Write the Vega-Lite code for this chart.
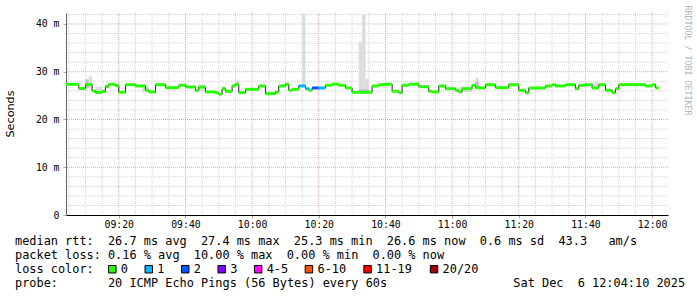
{
  "$schema": "https://vega.github.io/schema/vega-lite/v6.json",
  "width": 602,
  "height": 202,
  "autosize": {"type": "none"},
  "padding": {"left": 66, "top": 13, "right": 29, "bottom": 82},
  "config": {"view": {"stroke": "transparent"}},
  "datasets": {
    "segments": [
      {"t0": "2025-12-06T09:04:00Z", "t1": "2025-12-06T09:08:00Z", "med": 27.37, "loss": "0"},
      {"t0": "2025-12-06T09:08:00Z", "t1": "2025-12-06T09:10:00Z", "med": 26.49, "loss": "0"},
      {"t0": "2025-12-06T09:10:00Z", "t1": "2025-12-06T09:12:00Z", "med": 27.33, "loss": "0"},
      {"t0": "2025-12-06T09:12:00Z", "t1": "2025-12-06T09:13:00Z", "med": 25.97, "loss": "0"},
      {"t0": "2025-12-06T09:13:00Z", "t1": "2025-12-06T09:15:00Z", "med": 25.65, "loss": "0"},
      {"t0": "2025-12-06T09:15:00Z", "t1": "2025-12-06T09:16:00Z", "med": 25.86, "loss": "0"},
      {"t0": "2025-12-06T09:16:00Z", "t1": "2025-12-06T09:17:00Z", "med": 26.91, "loss": "0"},
      {"t0": "2025-12-06T09:17:00Z", "t1": "2025-12-06T09:19:00Z", "med": 27.37, "loss": "0"},
      {"t0": "2025-12-06T09:19:00Z", "t1": "2025-12-06T09:20:00Z", "med": 27.1, "loss": "0"},
      {"t0": "2025-12-06T09:20:00Z", "t1": "2025-12-06T09:22:00Z", "med": 25.7, "loss": "0"},
      {"t0": "2025-12-06T09:22:00Z", "t1": "2025-12-06T09:25:00Z", "med": 27.29, "loss": "0"},
      {"t0": "2025-12-06T09:25:00Z", "t1": "2025-12-06T09:28:00Z", "med": 27.02, "loss": "0"},
      {"t0": "2025-12-06T09:28:00Z", "t1": "2025-12-06T09:29:00Z", "med": 26.11, "loss": "0"},
      {"t0": "2025-12-06T09:29:00Z", "t1": "2025-12-06T09:31:00Z", "med": 25.76, "loss": "0"},
      {"t0": "2025-12-06T09:31:00Z", "t1": "2025-12-06T09:34:00Z", "med": 27.29, "loss": "0"},
      {"t0": "2025-12-06T09:34:00Z", "t1": "2025-12-06T09:38:00Z", "med": 26.66, "loss": "0"},
      {"t0": "2025-12-06T09:38:00Z", "t1": "2025-12-06T09:40:00Z", "med": 27.16, "loss": "0"},
      {"t0": "2025-12-06T09:40:00Z", "t1": "2025-12-06T09:43:00Z", "med": 26.81, "loss": "0"},
      {"t0": "2025-12-06T09:43:00Z", "t1": "2025-12-06T09:44:00Z", "med": 26.11, "loss": "0"},
      {"t0": "2025-12-06T09:44:00Z", "t1": "2025-12-06T09:46:00Z", "med": 26.81, "loss": "0"},
      {"t0": "2025-12-06T09:46:00Z", "t1": "2025-12-06T09:49:00Z", "med": 25.76, "loss": "0"},
      {"t0": "2025-12-06T09:49:00Z", "t1": "2025-12-06T09:50:00Z", "med": 25.6, "loss": "0"},
      {"t0": "2025-12-06T09:50:00Z", "t1": "2025-12-06T09:51:00Z", "med": 25.3, "loss": "0"},
      {"t0": "2025-12-06T09:51:00Z", "t1": "2025-12-06T09:52:00Z", "med": 26.45, "loss": "0"},
      {"t0": "2025-12-06T09:52:00Z", "t1": "2025-12-06T09:54:00Z", "med": 25.9, "loss": "0"},
      {"t0": "2025-12-06T09:54:00Z", "t1": "2025-12-06T09:55:00Z", "med": 27.02, "loss": "0"},
      {"t0": "2025-12-06T09:55:00Z", "t1": "2025-12-06T09:56:00Z", "med": 27.4, "loss": "0"},
      {"t0": "2025-12-06T09:56:00Z", "t1": "2025-12-06T09:58:00Z", "med": 25.61, "loss": "0"},
      {"t0": "2025-12-06T09:58:00Z", "t1": "2025-12-06T10:02:00Z", "med": 26.32, "loss": "0"},
      {"t0": "2025-12-06T10:02:00Z", "t1": "2025-12-06T10:04:00Z", "med": 27.02, "loss": "0"},
      {"t0": "2025-12-06T10:04:00Z", "t1": "2025-12-06T10:07:00Z", "med": 25.4, "loss": "0"},
      {"t0": "2025-12-06T10:07:00Z", "t1": "2025-12-06T10:08:00Z", "med": 25.76, "loss": "0"},
      {"t0": "2025-12-06T10:08:00Z", "t1": "2025-12-06T10:10:00Z", "med": 27.02, "loss": "0"},
      {"t0": "2025-12-06T10:10:00Z", "t1": "2025-12-06T10:11:00Z", "med": 27.4, "loss": "0"},
      {"t0": "2025-12-06T10:11:00Z", "t1": "2025-12-06T10:12:00Z", "med": 26.11, "loss": "0"},
      {"t0": "2025-12-06T10:12:00Z", "t1": "2025-12-06T10:14:00Z", "med": 26.32, "loss": "0"},
      {"t0": "2025-12-06T10:14:00Z", "t1": "2025-12-06T10:16:00Z", "med": 27.02, "loss": "1"},
      {"t0": "2025-12-06T10:16:00Z", "t1": "2025-12-06T10:17:00Z", "med": 26.45, "loss": "1"},
      {"t0": "2025-12-06T10:17:00Z", "t1": "2025-12-06T10:18:00Z", "med": 26.11, "loss": "0"},
      {"t0": "2025-12-06T10:18:00Z", "t1": "2025-12-06T10:20:00Z", "med": 26.6, "loss": "2"},
      {"t0": "2025-12-06T10:20:00Z", "t1": "2025-12-06T10:22:00Z", "med": 26.6, "loss": "1"},
      {"t0": "2025-12-06T10:22:00Z", "t1": "2025-12-06T10:24:00Z", "med": 27.16, "loss": "0"},
      {"t0": "2025-12-06T10:24:00Z", "t1": "2025-12-06T10:26:00Z", "med": 27.4, "loss": "0"},
      {"t0": "2025-12-06T10:26:00Z", "t1": "2025-12-06T10:28:00Z", "med": 27.16, "loss": "0"},
      {"t0": "2025-12-06T10:28:00Z", "t1": "2025-12-06T10:30:00Z", "med": 26.6, "loss": "0"},
      {"t0": "2025-12-06T10:30:00Z", "t1": "2025-12-06T10:36:00Z", "med": 25.7, "loss": "0"},
      {"t0": "2025-12-06T10:36:00Z", "t1": "2025-12-06T10:38:00Z", "med": 27.02, "loss": "0"},
      {"t0": "2025-12-06T10:38:00Z", "t1": "2025-12-06T10:40:00Z", "med": 27.29, "loss": "0"},
      {"t0": "2025-12-06T10:40:00Z", "t1": "2025-12-06T10:42:00Z", "med": 27.4, "loss": "0"},
      {"t0": "2025-12-06T10:42:00Z", "t1": "2025-12-06T10:44:00Z", "med": 25.91, "loss": "0"},
      {"t0": "2025-12-06T10:44:00Z", "t1": "2025-12-06T10:45:00Z", "med": 25.61, "loss": "0"},
      {"t0": "2025-12-06T10:45:00Z", "t1": "2025-12-06T10:47:00Z", "med": 27.16, "loss": "0"},
      {"t0": "2025-12-06T10:47:00Z", "t1": "2025-12-06T10:50:00Z", "med": 27.4, "loss": "0"},
      {"t0": "2025-12-06T10:50:00Z", "t1": "2025-12-06T10:53:00Z", "med": 26.87, "loss": "0"},
      {"t0": "2025-12-06T10:53:00Z", "t1": "2025-12-06T10:54:00Z", "med": 25.91, "loss": "0"},
      {"t0": "2025-12-06T10:54:00Z", "t1": "2025-12-06T10:56:00Z", "med": 25.76, "loss": "0"},
      {"t0": "2025-12-06T10:56:00Z", "t1": "2025-12-06T10:58:00Z", "med": 27.02, "loss": "0"},
      {"t0": "2025-12-06T10:58:00Z", "t1": "2025-12-06T11:01:00Z", "med": 26.45, "loss": "0"},
      {"t0": "2025-12-06T11:01:00Z", "t1": "2025-12-06T11:02:00Z", "med": 26.11, "loss": "0"},
      {"t0": "2025-12-06T11:02:00Z", "t1": "2025-12-06T11:03:00Z", "med": 25.76, "loss": "0"},
      {"t0": "2025-12-06T11:03:00Z", "t1": "2025-12-06T11:06:00Z", "med": 26.45, "loss": "0"},
      {"t0": "2025-12-06T11:06:00Z", "t1": "2025-12-06T11:07:00Z", "med": 27.16, "loss": "0"},
      {"t0": "2025-12-06T11:07:00Z", "t1": "2025-12-06T11:09:00Z", "med": 26.66, "loss": "0"},
      {"t0": "2025-12-06T11:09:00Z", "t1": "2025-12-06T11:10:00Z", "med": 26.6, "loss": "0"},
      {"t0": "2025-12-06T11:10:00Z", "t1": "2025-12-06T11:13:00Z", "med": 27.29, "loss": "0"},
      {"t0": "2025-12-06T11:13:00Z", "t1": "2025-12-06T11:17:00Z", "med": 26.66, "loss": "0"},
      {"t0": "2025-12-06T11:17:00Z", "t1": "2025-12-06T11:20:00Z", "med": 27.29, "loss": "0"},
      {"t0": "2025-12-06T11:20:00Z", "t1": "2025-12-06T11:22:00Z", "med": 26.11, "loss": "0"},
      {"t0": "2025-12-06T11:22:00Z", "t1": "2025-12-06T11:23:00Z", "med": 25.61, "loss": "0"},
      {"t0": "2025-12-06T11:23:00Z", "t1": "2025-12-06T11:28:00Z", "med": 26.6, "loss": "0"},
      {"t0": "2025-12-06T11:28:00Z", "t1": "2025-12-06T11:30:00Z", "med": 27.02, "loss": "0"},
      {"t0": "2025-12-06T11:30:00Z", "t1": "2025-12-06T11:31:00Z", "med": 27.29, "loss": "0"},
      {"t0": "2025-12-06T11:31:00Z", "t1": "2025-12-06T11:34:00Z", "med": 27.02, "loss": "0"},
      {"t0": "2025-12-06T11:34:00Z", "t1": "2025-12-06T11:37:00Z", "med": 27.29, "loss": "0"},
      {"t0": "2025-12-06T11:37:00Z", "t1": "2025-12-06T11:38:00Z", "med": 26.45, "loss": "0"},
      {"t0": "2025-12-06T11:38:00Z", "t1": "2025-12-06T11:40:00Z", "med": 27.16, "loss": "0"},
      {"t0": "2025-12-06T11:40:00Z", "t1": "2025-12-06T11:42:00Z", "med": 27.29, "loss": "0"},
      {"t0": "2025-12-06T11:42:00Z", "t1": "2025-12-06T11:44:00Z", "med": 26.6, "loss": "0"},
      {"t0": "2025-12-06T11:44:00Z", "t1": "2025-12-06T11:46:00Z", "med": 27.29, "loss": "0"},
      {"t0": "2025-12-06T11:46:00Z", "t1": "2025-12-06T11:48:00Z", "med": 26.11, "loss": "0"},
      {"t0": "2025-12-06T11:48:00Z", "t1": "2025-12-06T11:49:00Z", "med": 25.61, "loss": "0"},
      {"t0": "2025-12-06T11:49:00Z", "t1": "2025-12-06T11:50:00Z", "med": 26.45, "loss": "0"},
      {"t0": "2025-12-06T11:50:00Z", "t1": "2025-12-06T11:58:00Z", "med": 27.29, "loss": "0"},
      {"t0": "2025-12-06T11:58:00Z", "t1": "2025-12-06T12:00:00Z", "med": 27.02, "loss": "0"},
      {"t0": "2025-12-06T12:00:00Z", "t1": "2025-12-06T12:01:00Z", "med": 27.29, "loss": "0"},
      {"t0": "2025-12-06T12:01:00Z", "t1": "2025-12-06T12:02:00Z", "med": 26.6, "loss": "0"}
    ],
    "smoke": [
      {"t0": "2025-12-06T09:11:00Z", "t1": "2025-12-06T09:12:00Z", "lo": 26.5, "hi": 29.1, "band": "outer"},
      {"t0": "2025-12-06T09:13:00Z", "t1": "2025-12-06T09:15:00Z", "lo": 25.5, "hi": 26.9, "band": "outer"},
      {"t0": "2025-12-06T09:27:00Z", "t1": "2025-12-06T09:29:00Z", "lo": 25.8, "hi": 27.1, "band": "outer"},
      {"t0": "2025-12-06T09:44:00Z", "t1": "2025-12-06T09:46:00Z", "lo": 26.0, "hi": 27.2, "band": "outer"},
      {"t0": "2025-12-06T09:51:00Z", "t1": "2025-12-06T09:52:00Z", "lo": 26.2, "hi": 26.9, "band": "outer"},
      {"t0": "2025-12-06T09:55:00Z", "t1": "2025-12-06T09:56:00Z", "lo": 27.0, "hi": 28.3, "band": "outer"},
      {"t0": "2025-12-06T10:15:00Z", "t1": "2025-12-06T10:16:00Z", "lo": 26.8, "hi": 41.9, "band": "outer"},
      {"t0": "2025-12-06T10:32:00Z", "t1": "2025-12-06T10:33:00Z", "lo": 25.5, "hi": 36.3, "band": "outer"},
      {"t0": "2025-12-06T10:33:00Z", "t1": "2025-12-06T10:34:00Z", "lo": 25.5, "hi": 41.9, "band": "outer"},
      {"t0": "2025-12-06T10:34:00Z", "t1": "2025-12-06T10:35:00Z", "lo": 25.5, "hi": 28.5, "band": "outer"},
      {"t0": "2025-12-06T11:02:00Z", "t1": "2025-12-06T11:06:00Z", "lo": 25.7, "hi": 26.9, "band": "outer"},
      {"t0": "2025-12-06T11:07:00Z", "t1": "2025-12-06T11:08:00Z", "lo": 26.5, "hi": 28.7, "band": "outer"},
      {"t0": "2025-12-06T11:14:00Z", "t1": "2025-12-06T11:15:00Z", "lo": 26.6, "hi": 27.3, "band": "outer"},
      {"t0": "2025-12-06T11:42:00Z", "t1": "2025-12-06T11:44:00Z", "lo": 26.4, "hi": 27.8, "band": "outer"},
      {"t0": "2025-12-06T09:10:00Z", "t1": "2025-12-06T09:11:00Z", "lo": 26.5, "hi": 28.4, "band": "inner"},
      {"t0": "2025-12-06T10:32:00Z", "t1": "2025-12-06T10:35:00Z", "lo": 25.5, "hi": 26.3, "band": "inner"},
      {"t0": "2025-12-06T11:07:00Z", "t1": "2025-12-06T11:08:00Z", "lo": 26.5, "hi": 27.9, "band": "inner"}
    ],
    "vgrid": [
      {"t": "2025-12-06T09:05:00Z", "major": false}, {"t": "2025-12-06T09:10:00Z", "major": false}, {"t": "2025-12-06T09:15:00Z", "major": false},
      {"t": "2025-12-06T09:20:00Z", "major": true}, {"t": "2025-12-06T09:25:00Z", "major": false}, {"t": "2025-12-06T09:30:00Z", "major": false},
      {"t": "2025-12-06T09:35:00Z", "major": false}, {"t": "2025-12-06T09:40:00Z", "major": true}, {"t": "2025-12-06T09:45:00Z", "major": false},
      {"t": "2025-12-06T09:50:00Z", "major": false}, {"t": "2025-12-06T09:55:00Z", "major": false}, {"t": "2025-12-06T10:00:00Z", "major": true},
      {"t": "2025-12-06T10:05:00Z", "major": false}, {"t": "2025-12-06T10:10:00Z", "major": false}, {"t": "2025-12-06T10:15:00Z", "major": false},
      {"t": "2025-12-06T10:20:00Z", "major": true}, {"t": "2025-12-06T10:25:00Z", "major": false}, {"t": "2025-12-06T10:30:00Z", "major": false},
      {"t": "2025-12-06T10:35:00Z", "major": false}, {"t": "2025-12-06T10:40:00Z", "major": true}, {"t": "2025-12-06T10:45:00Z", "major": false},
      {"t": "2025-12-06T10:50:00Z", "major": false}, {"t": "2025-12-06T10:55:00Z", "major": false}, {"t": "2025-12-06T11:00:00Z", "major": true},
      {"t": "2025-12-06T11:05:00Z", "major": false}, {"t": "2025-12-06T11:10:00Z", "major": false}, {"t": "2025-12-06T11:15:00Z", "major": false},
      {"t": "2025-12-06T11:20:00Z", "major": true}, {"t": "2025-12-06T11:25:00Z", "major": false}, {"t": "2025-12-06T11:30:00Z", "major": false},
      {"t": "2025-12-06T11:35:00Z", "major": false}, {"t": "2025-12-06T11:40:00Z", "major": true}, {"t": "2025-12-06T11:45:00Z", "major": false},
      {"t": "2025-12-06T11:50:00Z", "major": false}, {"t": "2025-12-06T11:55:00Z", "major": false}, {"t": "2025-12-06T12:00:00Z", "major": true}
    ],
    "hgrid": [
      {"v": 2, "major": false}, {"v": 4, "major": false}, {"v": 6, "major": false}, {"v": 8, "major": false}, {"v": 10, "major": true},
      {"v": 12, "major": false}, {"v": 14, "major": false}, {"v": 16, "major": false}, {"v": 18, "major": false}, {"v": 20, "major": true},
      {"v": 22, "major": false}, {"v": 24, "major": false}, {"v": 26, "major": false}, {"v": 28, "major": false}, {"v": 30, "major": true},
      {"v": 32, "major": false}, {"v": 34, "major": false}, {"v": 36, "major": false}, {"v": 38, "major": false}, {"v": 40, "major": true},
      {"v": 42, "major": false}
    ],
    "legendRows": [
      {"row": 1, "col": 0, "text": "median rtt:"},
      {"row": 1, "col": 13, "text": "26.7 ms avg"},
      {"row": 1, "col": 26, "text": "27.4 ms max"},
      {"row": 1, "col": 39, "text": "25.3 ms min"},
      {"row": 1, "col": 52, "text": "26.6 ms now"},
      {"row": 1, "col": 65, "text": "0.6 ms sd"},
      {"row": 1, "col": 76, "text": "43.3"},
      {"row": 1, "col": 83, "text": "am/s"},
      {"row": 2, "col": 0, "text": "packet loss:"},
      {"row": 2, "col": 13, "text": "0.16 % avg"},
      {"row": 2, "col": 25, "text": "10.00 % max"},
      {"row": 2, "col": 38, "text": "0.00 % min"},
      {"row": 2, "col": 50, "text": "0.00 % now"},
      {"row": 3, "col": 0, "text": "loss color:"},
      {"row": 3, "col": 14.8, "text": "0", "loss": "0"},
      {"row": 3, "col": 19.9, "text": "1", "loss": "1"},
      {"row": 3, "col": 25.0, "text": "2", "loss": "2"},
      {"row": 3, "col": 30.1, "text": "3", "loss": "3"},
      {"row": 3, "col": 35.2, "text": "4-5", "loss": "4-5"},
      {"row": 3, "col": 42.3, "text": "6-10", "loss": "6-10"},
      {"row": 3, "col": 50.5, "text": "11-19", "loss": "11-19"},
      {"row": 3, "col": 59.8, "text": "20/20", "loss": "20/20"},
      {"row": 4, "col": 0, "text": "probe:"},
      {"row": 4, "col": 13, "text": "20 ICMP Echo Pings (56 Bytes) every 60s"},
      {"row": 4, "col": 69.7, "text": "Sat Dec"},
      {"row": 4, "col": 78.7, "text": "6 12:04:10 2025"}
    ]
  },
  "layer": [
    {
      "layer": [
        {
          "data": {"name": "vgrid"},
          "mark": {"type": "rule", "strokeDash": [1, 1], "strokeWidth": 1},
          "encoding": {
            "x": {"field": "t", "type": "temporal",
              "scale": {"type": "utc", "nice": false, "domain": [{"year": 2025, "month": 12, "date": 6, "hours": 9, "minutes": 4, "seconds": 10, "utc": true}, {"year": 2025, "month": 12, "date": 6, "hours": 12, "minutes": 4, "seconds": 46, "utc": true}]},
              "axis": {"title": null, "grid": false, "format": "%H:%M",
                "values": [
                  {"year": 2025, "month": 12, "date": 6, "hours": 9, "minutes": 20, "utc": true},
                  {"year": 2025, "month": 12, "date": 6, "hours": 9, "minutes": 40, "utc": true},
                  {"year": 2025, "month": 12, "date": 6, "hours": 10, "minutes": 0, "utc": true},
                  {"year": 2025, "month": 12, "date": 6, "hours": 10, "minutes": 20, "utc": true},
                  {"year": 2025, "month": 12, "date": 6, "hours": 10, "minutes": 40, "utc": true},
                  {"year": 2025, "month": 12, "date": 6, "hours": 11, "minutes": 0, "utc": true},
                  {"year": 2025, "month": 12, "date": 6, "hours": 11, "minutes": 20, "utc": true},
                  {"year": 2025, "month": 12, "date": 6, "hours": 11, "minutes": 40, "utc": true},
                  {"year": 2025, "month": 12, "date": 6, "hours": 12, "minutes": 0, "utc": true}
                ],
                "labelFont": "DejaVu Sans Mono", "labelFontSize": 9.8, "labelColor": "#000000", "labelPadding": 1, "tickSize": 3, "tickColor": "#e09090", "domainColor": "#000000"}},
            "color": {"condition": {"test": "datum.major", "value": "#e8a4a4"}, "value": "#d2d2d2"}
          }
        },
        {
          "data": {"name": "hgrid"},
          "mark": {"type": "rule", "strokeDash": [1, 1], "strokeWidth": 1},
          "encoding": {
            "y": {"field": "v", "type": "quantitative",
              "scale": {"domain": [0, 42.3], "nice": false, "zero": true},
              "axis": {"title": "Seconds", "titleFont": "DejaVu Sans", "titleFontSize": 11.2, "titleFontWeight": "normal", "titleColor": "#000000", "titleAngle": 270, "titleAlign": "center", "titleBaseline": "middle", "titleX": -55.5, "titleY": 100.5, "grid": false, "values": [0, 10, 20, 30, 40], "labelExpr": "datum.value === 0 ? '0' : datum.value + ' m'", "labelFont": "DejaVu Sans Mono", "labelFontSize": 9.8, "labelColor": "#000000", "labelPadding": 4, "tickSize": 3, "tickColor": "#e09090", "domainColor": "#666666"}},
            "color": {"condition": {"test": "datum.major", "value": "#e8a4a4"}, "value": "#d2d2d2"}
          }
        },
        {
          "data": {"name": "smoke"},
          "mark": {"type": "rect", "clip": true},
          "encoding": {
            "x": {"field": "t0", "type": "temporal"},
            "x2": {"field": "t1"},
            "y": {"field": "lo", "type": "quantitative"},
            "y2": {"field": "hi"},
            "fill": {"field": "band", "type": "nominal", "scale": {"domain": ["outer", "inner"], "range": ["#dcdcdc", "#bdbdbd"]}, "legend": null}
          }
        },
        {
          "data": {"name": "segments"},
          "mark": {"type": "line", "interpolate": "step-after", "color": "#202020", "strokeWidth": 1, "clip": true},
          "encoding": {
            "x": {"field": "t0", "type": "temporal"},
            "y": {"field": "med", "type": "quantitative"}
          }
        },
        {
          "data": {"name": "segments"},
          "mark": {"type": "rule", "strokeWidth": 3, "clip": true},
          "encoding": {
            "x": {"field": "t0", "type": "temporal"},
            "x2": {"field": "t1"},
            "y": {"field": "med", "type": "quantitative"},
            "color": {"field": "loss", "type": "nominal", "scale": {"domain": ["0", "1", "2", "3", "4-5", "6-10", "11-19", "20/20"], "range": ["#26ff00", "#00b8ff", "#0059ff", "#7e00ff", "#ff00ff", "#ff5500", "#ff0000", "#a00000"]}, "legend": null}
          }
        }
      ]
    },
    {
      "data": {"name": "legendRows"},
      "layer": [
        {
          "mark": {"type": "text", "align": "left", "baseline": "middle", "font": "DejaVu Sans Mono", "fontSize": 11.9, "color": "#000000"},
          "encoding": {
            "x": {"field": "col", "type": "quantitative", "scale": {"domain": [0, 100], "range": [-51, 664]}, "axis": null},
            "y": {"field": "row", "type": "quantitative", "scale": {"domain": [1, 4], "range": [228, 270.3]},
              "axis": {"orient": "right", "title": "RRDTOOL / TOBI OETIKER", "labels": false, "ticks": false, "domain": false, "grid": false, "titleFont": "DejaVu Sans Mono", "titleFontSize": 8.3, "titleFontWeight": "normal", "titleColor": "#b4b4b4", "titleAngle": 90, "titleAlign": "center", "titleBaseline": "middle", "titleX": 18.5, "titleY": 47}},
            "text": {"field": "text"}
          }
        },
        {
          "transform": [{"filter": "isValid(datum.loss)"}],
          "mark": {"type": "point", "shape": "square", "filled": true, "size": 56, "stroke": "#000000", "strokeWidth": 1, "opacity": 1, "xOffset": -8.5},
          "encoding": {
            "x": {"field": "col", "type": "quantitative"},
            "y": {"field": "row", "type": "quantitative"},
            "color": {"field": "loss", "type": "nominal", "legend": null}
          }
        }
      ]
    }
  ],
  "resolve": {"scale": {"x": "independent", "y": "independent"}}
}
